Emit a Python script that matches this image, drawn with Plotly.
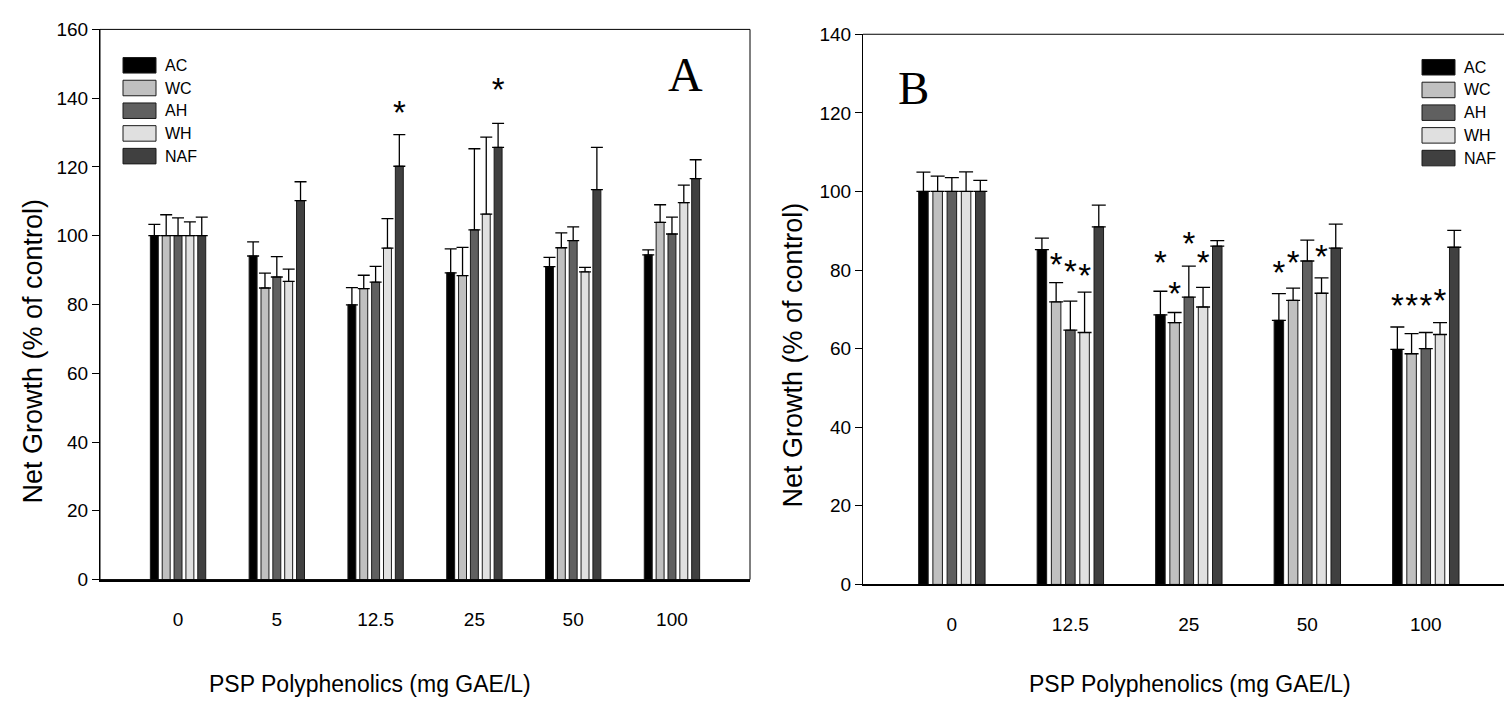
import plotly.graph_objects as go

W, H = 1504, 707

# ---------------- data ----------------
series = ["AC", "WC", "AH", "WH", "NAF"]
colors = ["#000000", "#c0c0c0", "#606060", "#e0e0e0", "#404040"]

cats_A = ["0", "5", "12.5", "25", "50", "100"]
vals_A = {
    "AC":  [100.0, 94.1, 79.9, 89.2, 91.0, 94.4],
    "WC":  [100.0, 84.8, 84.6, 88.4, 96.5, 103.9],
    "AH":  [100.0, 88.0, 86.5, 101.7, 98.6, 100.5],
    "WH":  [100.0, 86.7, 96.4, 106.3, 89.5, 109.6],
    "NAF": [100.0, 110.2, 120.2, 125.7, 113.4, 116.6],
}
err_A = {
    "AC":  [3.3, 4.1, 5.0, 7.0, 2.7, 1.5],
    "WC":  [6.1, 4.3, 3.9, 8.2, 4.3, 5.1],
    "AH":  [5.2, 5.9, 4.6, 23.6, 4.0, 4.9],
    "WH":  [4.0, 3.6, 8.6, 22.4, 1.3, 5.1],
    "NAF": [5.4, 5.5, 9.2, 7.0, 12.3, 5.5],
}
# significance stars: (category index, series, y value of star)
stars_A = [(2, "NAF", 135.0), (3, "NAF", 141.5)]

cats_B = ["0", "12.5", "25", "50", "100"]
vals_B = {
    "AC":  [100.0, 85.2, 68.6, 67.2, 59.8],
    "WC":  [100.0, 71.9, 66.6, 72.3, 58.7],
    "AH":  [100.0, 64.7, 73.1, 82.3, 60.0],
    "WH":  [100.0, 64.1, 70.6, 74.1, 63.6],
    "NAF": [100.0, 91.0, 86.1, 85.6, 85.8],
}
err_B = {
    "AC":  [4.9, 2.9, 6.0, 6.8, 5.7],
    "WC":  [3.9, 4.9, 2.6, 3.1, 5.1],
    "AH":  [3.5, 7.4, 7.9, 5.3, 4.1],
    "WH":  [5.0, 10.3, 5.0, 3.9, 3.0],
    "NAF": [2.8, 5.5, 1.4, 6.1, 4.3],
}
stars_B = [(1, "WC", 80.7), (1, "AH", 78.8), (1, "WH", 77.8),
           (2, "AC", 81.0), (2, "WC", 73.1), (2, "AH", 85.9), (2, "WH", 81.0),
           (3, "AC", 78.5), (3, "WC", 81.0), (3, "WH", 82.7),
           (4, "AC", 70.1), (4, "WC", 70.1), (4, "AH", 70.1), (4, "WH", 71.4)]

x_title = "PSP Polyphenolics (mg GAE/L)"
y_title = "Net Growth (% of control)"

# ---------------- style ----------------
FAM = "Liberation Sans, Arial, sans-serif"
SERIF = "Liberation Serif, Times New Roman, serif"
BARGAP = 0.4
GROUPGAP = 0.33


def px(x):
    return x / W


def py(y):
    return 1 - y / H


fig = go.Figure()

panels = [
    dict(ax="x", ay="y", cats=cats_A, vals=vals_A, err=err_A, stars=stars_A, capw=6),
    dict(ax="x2", ay="y2", cats=cats_B, vals=vals_B, err=err_B, stars=stars_B, capw=7),
]

pitch = (1 - BARGAP) / len(series)
for p in panels:
    idx = list(range(len(p["cats"])))
    for s, c in zip(series, colors):
        fig.add_trace(go.Bar(
            x=idx, y=p["vals"][s], name=s, xaxis=p["ax"], yaxis=p["ay"],
            marker=dict(color=c, line=dict(color="#1a1a1a", width=1)),
            error_y=dict(type="data", array=p["err"][s], arrayminus=[0] * len(idx),
                         symmetric=False, color="black", thickness=1.3, width=p["capw"]),
            showlegend=False, hoverinfo="skip",
        ))
    sx = [ci + (series.index(s) - 2) * pitch for ci, s, _ in p["stars"]]
    sy = [v for _, _, v in p["stars"]]
    fig.add_trace(go.Scatter(
        x=sx, y=sy, mode="text", text=["*"] * len(sx), textposition="middle center",
        textfont=dict(family=FAM, size=33, color="black"),
        xaxis=p["ax"], yaxis=p["ay"], showlegend=False, hoverinfo="skip",
    ))

axis_common_y = dict(showline=True, linecolor="black", linewidth=1, ticks="outside",
                     ticklen=7, tickcolor="black", tickwidth=1, showgrid=False,
                     zeroline=False, dtick=20,
                     tickfont=dict(family=FAM, size=19, color="black"))
axis_common_x = dict(showline=True, linecolor="black", linewidth=2, ticks="",
                     showgrid=False, zeroline=False,
                     tickfont=dict(family=FAM, size=19, color="black"),
                     ticklabelstandoff=22)

fig.update_layout(
    width=W, height=H, margin=dict(l=0, r=0, t=0, b=0),
    paper_bgcolor="white", plot_bgcolor="white",
    barmode="group", bargap=BARGAP, bargroupgap=GROUPGAP,
    xaxis=dict(domain=[px(100), px(750)], range=[-0.79, 5.79], anchor="y",
               tickvals=list(range(len(cats_A))), ticktext=cats_A, **axis_common_x),
    yaxis=dict(domain=[py(587), py(20)], range=[0, 160], anchor="x", **axis_common_y),
    xaxis2=dict(domain=[px(863), 1.0], range=[-0.75, 4.66], anchor="y2",
                tickvals=list(range(len(cats_B))), ticktext=cats_B, **axis_common_x),
    yaxis2=dict(domain=[py(592), py(25)], range=[0, 140], anchor="x2", **axis_common_y),
)

shapes = [
    dict(type="rect", xref="x domain", yref="y domain", x0=0, x1=1, y0=0, y1=1,
         line=dict(color="black", width=1), layer="above"),
    dict(type="line", xref="x2 domain", yref="y2 domain", x0=0, x1=1, y0=1, y1=1,
         line=dict(color="black", width=1)),
]
annotations = []

# custom legends (pixel positions)
for lx, ly0 in [(123, 49), (1422, 51)]:
    for i, (s, c) in enumerate(zip(series, colors)):
        y0 = ly0 + i * 23.4
        shapes.append(dict(type="rect", xref="paper", yref="paper",
                           x0=px(lx), x1=px(lx + 33), y0=py(y0 + 16), y1=py(y0),
                           fillcolor=c, line=dict(color="#1a1a1a", width=1)))
        annotations.append(dict(xref="paper", yref="paper", x=px(lx + 40), y=py(y0 + 8),
                                text=s, showarrow=False, xanchor="left", yanchor="middle",
                                font=dict(family=FAM, size=16, color="black")))

# panel letters
annotations.append(dict(xref="paper", yref="paper", x=px(685), y=py(66), text="A",
                        showarrow=False, xanchor="center", yanchor="middle",
                        font=dict(family=SERIF, size=48, color="black")))
annotations.append(dict(xref="paper", yref="paper", x=px(913), y=py(80), text="B",
                        showarrow=False, xanchor="center", yanchor="middle",
                        font=dict(family=SERIF, size=47, color="black")))

# axis titles
for xc, yc in [(370, 695), (1190, 695)]:
    annotations.append(dict(xref="paper", yref="paper", x=px(xc), y=py(yc), text=x_title,
                            showarrow=False, xanchor="center", yanchor="middle",
                            font=dict(family=FAM, size=23, color="black")))
for xc, yc in [(33, 352), (793, 355)]:
    annotations.append(dict(xref="paper", yref="paper", x=px(xc), y=py(yc), text=y_title,
                            showarrow=False, xanchor="center", yanchor="middle", textangle=-90,
                            font=dict(family=FAM, size=27, color="black")))

fig.update_layout(shapes=shapes, annotations=annotations)
fig.write_html("out.html")
